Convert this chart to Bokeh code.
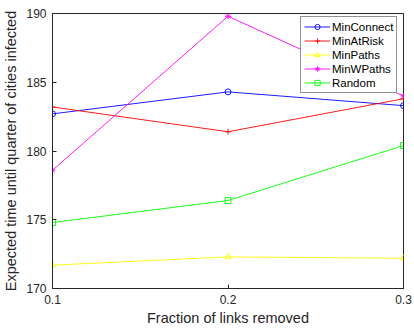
from bokeh.plotting import figure
from bokeh.models import Legend, LegendItem, FixedTicker, Range1d
from bokeh.embed import file_html
from bokeh.resources import INLINE

# Fraction of links removed
fractions = [0.1, 0.2, 0.3]

# Expected time until a quarter of cities are infected, per strategy
min_connect = [182.7, 184.3, 183.3]
min_at_risk = [183.2, 181.4, 183.8]
min_paths = [171.7, 172.3, 172.2]
min_w_paths = [178.6, 189.8, 184.0]
random_removal = [174.8, 176.4, 180.4]

x_ticks = [0.1, 0.2, 0.3]
y_ticks = [170, 175, 180, 185, 190]

series = [
    ("MinConnect", min_connect, "#0000ff", "circle"),
    ("MinAtRisk", min_at_risk, "#ff0000", "cross"),
    ("MinPaths", min_paths, "#ffff00", "triangle"),
    ("MinWPaths", min_w_paths, "#ff00ff", "asterisk"),
    ("Random", random_removal, "#00ff00", "square"),
]

FONT = "Liberation Sans"
INK = "#262626"

p = figure(width=414, height=331, output_backend="svg", toolbar_location=None,
           x_range=Range1d(0.1, 0.3), y_range=Range1d(170, 190),
           min_border_left=52, min_border_right=11, min_border_top=13,
           min_border_bottom=43)

p.background_fill_color = "white"
p.border_fill_color = "white"
p.outline_line_color = INK
p.outline_line_width = 1
p.grid.visible = False

for ax in p.xaxis + p.yaxis:
    ax.axis_line_color = INK
    ax.major_tick_line_color = INK
    ax.major_tick_in = 4
    ax.major_tick_out = 0
    ax.minor_tick_line_color = None
    ax.major_label_text_font = FONT
    ax.major_label_text_font_size = "12px"
    ax.major_label_text_color = INK
    ax.axis_label_text_font = FONT
    ax.axis_label_text_font_size = "14.5px"
    ax.axis_label_text_font_style = "normal"
    ax.axis_label_text_color = INK

bottom = p.below[0]
left = p.left[0]
bottom.ticker = FixedTicker(ticks=x_ticks)
left.ticker = FixedTicker(ticks=y_ticks)
bottom.major_label_overrides = {0.1: "0.1", 0.2: "0.2", 0.3: "0.3"}
bottom.axis_label = "Fraction of links removed"
left.axis_label = "Expected time until quarter of cities infected"
bottom.major_label_standoff = 6
bottom.axis_label_standoff = 3
left.major_label_standoff = 6
left.axis_label_standoff = 4

items = []
for name, ys, color, marker in series:
    ln = p.line(fractions, ys, line_color=color, line_width=0.9)
    mk = p.scatter(fractions, ys, marker=marker, size=6, line_color=color,
                   fill_color=None, line_width=0.9)
    items.append(LegendItem(label=name, renderers=[ln, mk]))

legend = Legend(items=items, location=(248, 195))
legend.label_text_font = FONT
legend.label_text_font_size = "11.5px"
legend.label_text_color = "black"
legend.label_height = 13
legend.glyph_height = 13
legend.glyph_width = 26
legend.spacing = 1
legend.padding = 3
legend.margin = 0
legend.label_standoff = 2
legend.border_line_color = INK
legend.border_line_width = 1
legend.background_fill_color = "white"
legend.background_fill_alpha = 1
p.add_layout(legend, "center")

open("out.html", "w").write(file_html(p, INLINE))
